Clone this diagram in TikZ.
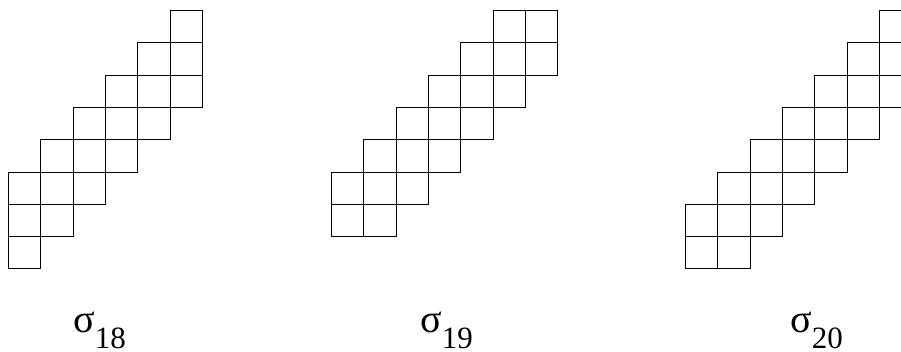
\documentclass[tikz,border=0pt]{standalone}
\usepackage{fontspec}
\setmainfont{Liberation Serif}
\newcommand{\sgl}[1]{{\fontsize{40}{40}\selectfont σ}\raisebox{-16pt}[\height][0pt]{\fontsize{31}{31}\selectfont #1}}
\tikzset{cellbox/.style={draw=black,line width=1.2pt},
  lab/.style={inner sep=0pt,anchor=base west}}
\begin{document}
\begin{tikzpicture}[x=1pt,y=-1pt]
\useasboundingbox (0,0) rectangle (901,352);
\clip (0,0) rectangle (901,352);
\def\cs{32.3}
% sigma 18: origin (8,10); rows: row/firstcol/lastcol
\draw[cellbox] foreach \r/\a/\b in {0/5/5,1/4/5,2/3/5,3/2/4,4/1/3,5/0/2,6/0/1,7/0/0}{
  foreach \c in {\a,...,\b}{
    ({round(8+\c*\cs)+0.5},{round(10+\r*\cs)+0.5}) rectangle ({round(8+(\c+1)*\cs)+0.5},{round(10+(\r+1)*\cs)+0.5})
  }
};
% sigma 19: origin (331,10)
\draw[cellbox] foreach \r/\a/\b in {0/5/6,1/4/6,2/3/5,3/2/4,4/1/3,5/0/2,6/0/1}{
  foreach \c in {\a,...,\b}{
    ({round(331+\c*\cs)+0.5},{round(10+\r*\cs)+0.5}) rectangle ({round(331+(\c+1)*\cs)+0.5},{round(10+(\r+1)*\cs)+0.5})
  }
};
% sigma 20: origin (685,10)
\draw[cellbox] foreach \r/\a/\b in {0/6/6,1/5/6,2/4/6,3/3/5,4/2/4,5/1/3,6/0/2,7/0/1}{
  foreach \c in {\a,...,\b}{
    ({round(685+\c*\cs)+0.5},{round(10+\r*\cs)+0.5}) rectangle ({round(685+(\c+1)*\cs)+0.5},{round(10+(\r+1)*\cs)+0.5})
  }
};
\node[lab] (l18) at (73,332) {\sgl{18}};
\node[lab] (l19) at (420,332) {\sgl{19}};
\node[lab] (l20) at (790,332) {\sgl{20}};
\end{tikzpicture}
\end{document}
